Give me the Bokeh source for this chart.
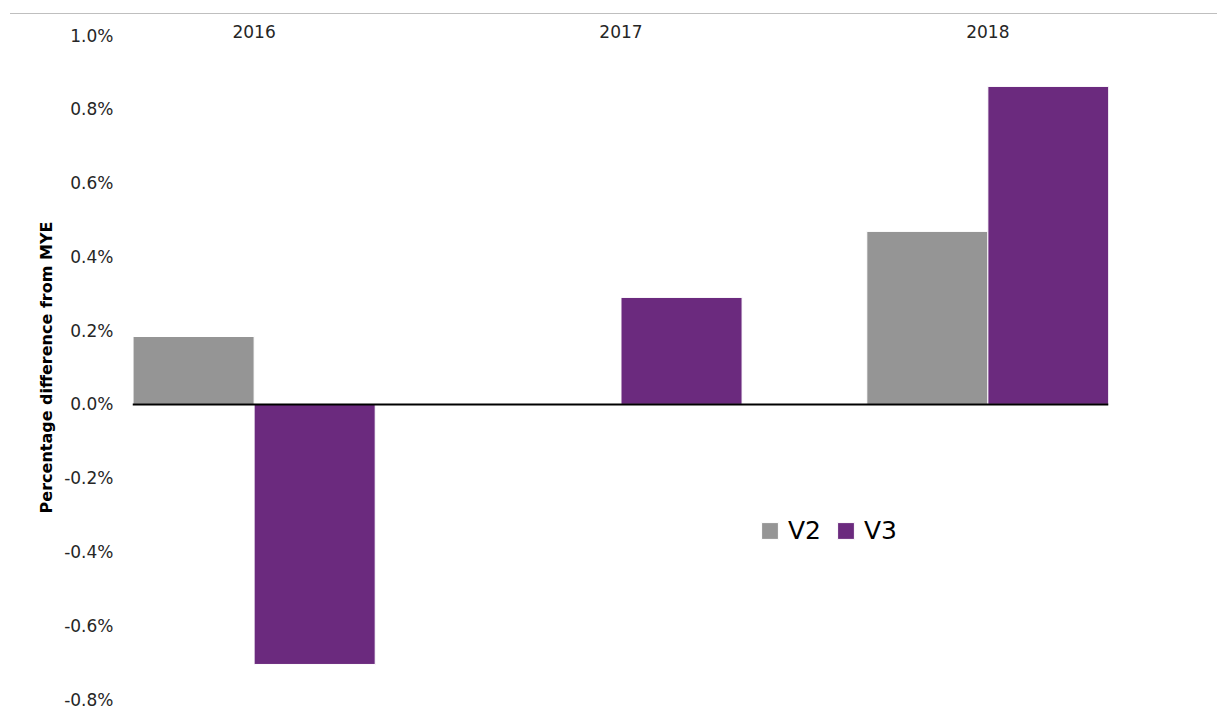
from bokeh.plotting import figure
from bokeh.models import (ColumnDataSource, Range1d, FixedTicker, PrintfTickFormatter,
                          LinearAxis, Span, Legend, LegendItem, Div)
from bokeh.layouts import column
from bokeh.transform import dodge
from bokeh.embed import file_html
from bokeh.resources import INLINE

# ---- data ----
years = ["2016", "2017", "2018"]
v2 = [0.184, 0.0, 0.469]
v3 = [-0.705, 0.290, 0.862]
y_ticks = [-0.8, -0.6, -0.4, -0.2, 0.0, 0.2, 0.4, 0.6, 0.8, 1.0]

GREY = "#959595"
PURPLE = "#6B2A7E"
FONT = "DejaVu Sans"

src = ColumnDataSource(dict(x=list(range(len(years))), v2=v2, v3=v3))

p = figure(width=1217, height=695, output_backend="svg", toolbar_location=None,
           x_range=Range1d(-0.3315, 2.3288), y_range=Range1d(-0.8, 1.0),
           x_axis_location=None, y_axis_location="left",
           min_border_left=132, min_border_right=109, min_border_top=21,
           min_border_bottom=10, outline_line_color=None, margin=0)
p.grid.visible = False
p.background_fill_color = "white"
p.border_fill_color = "white"

r2 = p.vbar(x=dodge("x", -0.165, range=p.x_range), top="v2", bottom=0, width=0.33,
            source=src, fill_color=GREY, line_color="white", line_width=1)
r3 = p.vbar(x=dodge("x", 0.165, range=p.x_range), top="v3", bottom=0, width=0.33,
            source=src, fill_color=PURPLE, line_color="white", line_width=1)

p.add_layout(Span(location=0, dimension="width", line_color="black", line_width=2))

# y axis
ya = p.yaxis[0]
ya.ticker = FixedTicker(ticks=y_ticks)
ya.formatter = PrintfTickFormatter(format="%.1f%%")
ya.axis_line_color = None
ya.major_tick_line_color = None
ya.minor_tick_line_color = None
ya.major_label_standoff = 13
ya.major_label_text_font = FONT
ya.major_label_text_font_size = "17px"
ya.major_label_text_color = "#262626"
ya.axis_label = "Percentage difference from MYE"
ya.axis_label_text_font = FONT
ya.axis_label_text_font_style = "bold"
ya.axis_label_text_font_size = "16px"
ya.axis_label_text_color = "black"
ya.axis_label_standoff = 5

# category axis on top
xa = LinearAxis(ticker=FixedTicker(ticks=list(range(len(years)))),
                major_label_overrides={i: y for i, y in enumerate(years)})
xa.axis_line_color = None
xa.major_tick_line_color = None
xa.minor_tick_line_color = None
xa.major_label_standoff = -8
xa.major_label_text_font = FONT
xa.major_label_text_font_size = "17px"
xa.major_label_text_color = "#262626"
p.add_layout(xa, "above")

legend = Legend(items=[LegendItem(label="V2", renderers=[r2]),
                       LegendItem(label="V3", renderers=[r3])],
                location=(627, 154), orientation="horizontal",
                glyph_width=21, glyph_height=21, label_standoff=8, spacing=14,
                padding=0, margin=0, border_line_color=None,
                background_fill_alpha=0, label_text_font=FONT,
                label_text_font_size="25px", label_text_color="black")
p.add_layout(legend)

# thin grey rule across the top of the page
top_rule = Div(text="", width=1207, height=1, margin=(13, 0, 0, 10),
               styles={"background-color": "#bfbfbf"})

layout = column(top_rule, p, spacing=0)
open("out.html", "w").write(file_html(layout, INLINE))
